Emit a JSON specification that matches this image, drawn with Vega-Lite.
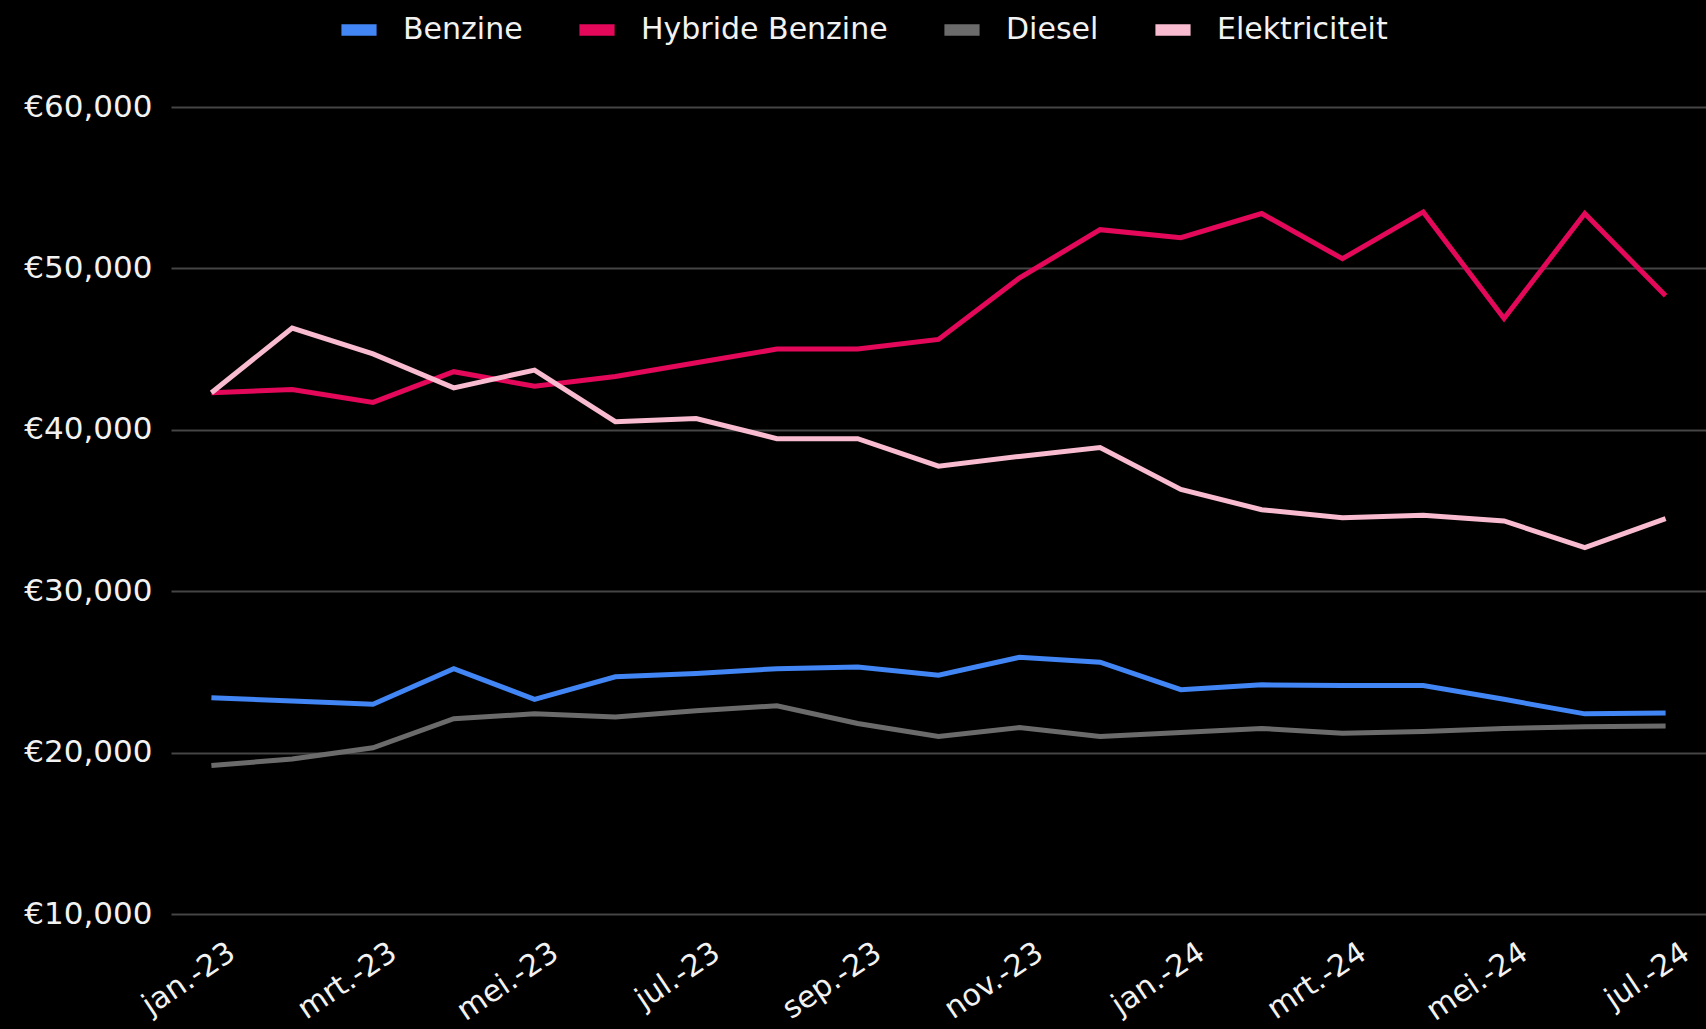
{
  "$schema": "https://vega.github.io/schema/vega-lite/v6.json",
  "width": 1535,
  "height": 807,
  "autosize": {"type": "none"},
  "padding": {"left": 171, "top": 107, "right": 0, "bottom": 115},
  "background": "#000000",
  "config": {
    "view": {"stroke": null},
    "font": "DejaVu Sans",
    "axis": {"labelFont": "DejaVu Sans", "labelColor": "#f2f2f2"},
    "legend": {"labelFont": "DejaVu Sans", "labelColor": "#f2f2f2"}
  },
  "data": {
    "values": [
      {"maand": "jan.-23", "brandstof": "Benzine", "prijs": 23400},
      {"maand": "feb.-23", "brandstof": "Benzine", "prijs": 23200},
      {"maand": "mrt.-23", "brandstof": "Benzine", "prijs": 23000},
      {"maand": "apr.-23", "brandstof": "Benzine", "prijs": 25200},
      {"maand": "mei.-23", "brandstof": "Benzine", "prijs": 23300},
      {"maand": "jun.-23", "brandstof": "Benzine", "prijs": 24700},
      {"maand": "jul.-23", "brandstof": "Benzine", "prijs": 24900},
      {"maand": "aug.-23", "brandstof": "Benzine", "prijs": 25200},
      {"maand": "sep.-23", "brandstof": "Benzine", "prijs": 25300},
      {"maand": "okt.-23", "brandstof": "Benzine", "prijs": 24800},
      {"maand": "nov.-23", "brandstof": "Benzine", "prijs": 25900},
      {"maand": "dec.-23", "brandstof": "Benzine", "prijs": 25600},
      {"maand": "jan.-24", "brandstof": "Benzine", "prijs": 23900},
      {"maand": "feb.-24", "brandstof": "Benzine", "prijs": 24200},
      {"maand": "mrt.-24", "brandstof": "Benzine", "prijs": 24150},
      {"maand": "apr.-24", "brandstof": "Benzine", "prijs": 24150},
      {"maand": "mei.-24", "brandstof": "Benzine", "prijs": 23300},
      {"maand": "jun.-24", "brandstof": "Benzine", "prijs": 22400},
      {"maand": "jul.-24", "brandstof": "Benzine", "prijs": 22450},

      {"maand": "jan.-23", "brandstof": "Hybride Benzine", "prijs": 42300},
      {"maand": "feb.-23", "brandstof": "Hybride Benzine", "prijs": 42500},
      {"maand": "mrt.-23", "brandstof": "Hybride Benzine", "prijs": 41700},
      {"maand": "apr.-23", "brandstof": "Hybride Benzine", "prijs": 43600},
      {"maand": "mei.-23", "brandstof": "Hybride Benzine", "prijs": 42700},
      {"maand": "jun.-23", "brandstof": "Hybride Benzine", "prijs": 43300},
      {"maand": "jul.-23", "brandstof": "Hybride Benzine", "prijs": 44150},
      {"maand": "aug.-23", "brandstof": "Hybride Benzine", "prijs": 45000},
      {"maand": "sep.-23", "brandstof": "Hybride Benzine", "prijs": 45000},
      {"maand": "okt.-23", "brandstof": "Hybride Benzine", "prijs": 45600},
      {"maand": "nov.-23", "brandstof": "Hybride Benzine", "prijs": 49400},
      {"maand": "dec.-23", "brandstof": "Hybride Benzine", "prijs": 52400},
      {"maand": "jan.-24", "brandstof": "Hybride Benzine", "prijs": 51900},
      {"maand": "feb.-24", "brandstof": "Hybride Benzine", "prijs": 53400},
      {"maand": "mrt.-24", "brandstof": "Hybride Benzine", "prijs": 50600},
      {"maand": "apr.-24", "brandstof": "Hybride Benzine", "prijs": 53500},
      {"maand": "mei.-24", "brandstof": "Hybride Benzine", "prijs": 46900},
      {"maand": "jun.-24", "brandstof": "Hybride Benzine", "prijs": 53400},
      {"maand": "jul.-24", "brandstof": "Hybride Benzine", "prijs": 48300},

      {"maand": "jan.-23", "brandstof": "Diesel", "prijs": 19200},
      {"maand": "feb.-23", "brandstof": "Diesel", "prijs": 19600},
      {"maand": "mrt.-23", "brandstof": "Diesel", "prijs": 20300},
      {"maand": "apr.-23", "brandstof": "Diesel", "prijs": 22100},
      {"maand": "mei.-23", "brandstof": "Diesel", "prijs": 22400},
      {"maand": "jun.-23", "brandstof": "Diesel", "prijs": 22200},
      {"maand": "jul.-23", "brandstof": "Diesel", "prijs": 22600},
      {"maand": "aug.-23", "brandstof": "Diesel", "prijs": 22900},
      {"maand": "sep.-23", "brandstof": "Diesel", "prijs": 21800},
      {"maand": "okt.-23", "brandstof": "Diesel", "prijs": 21000},
      {"maand": "nov.-23", "brandstof": "Diesel", "prijs": 21550},
      {"maand": "dec.-23", "brandstof": "Diesel", "prijs": 21000},
      {"maand": "jan.-24", "brandstof": "Diesel", "prijs": 21250},
      {"maand": "feb.-24", "brandstof": "Diesel", "prijs": 21500},
      {"maand": "mrt.-24", "brandstof": "Diesel", "prijs": 21200},
      {"maand": "apr.-24", "brandstof": "Diesel", "prijs": 21300},
      {"maand": "mei.-24", "brandstof": "Diesel", "prijs": 21500},
      {"maand": "jun.-24", "brandstof": "Diesel", "prijs": 21600},
      {"maand": "jul.-24", "brandstof": "Diesel", "prijs": 21650},

      {"maand": "jan.-23", "brandstof": "Elektriciteit", "prijs": 42300},
      {"maand": "feb.-23", "brandstof": "Elektriciteit", "prijs": 46300},
      {"maand": "mrt.-23", "brandstof": "Elektriciteit", "prijs": 44700},
      {"maand": "apr.-23", "brandstof": "Elektriciteit", "prijs": 42600},
      {"maand": "mei.-23", "brandstof": "Elektriciteit", "prijs": 43700},
      {"maand": "jun.-23", "brandstof": "Elektriciteit", "prijs": 40500},
      {"maand": "jul.-23", "brandstof": "Elektriciteit", "prijs": 40700},
      {"maand": "aug.-23", "brandstof": "Elektriciteit", "prijs": 39450},
      {"maand": "sep.-23", "brandstof": "Elektriciteit", "prijs": 39450},
      {"maand": "okt.-23", "brandstof": "Elektriciteit", "prijs": 37750},
      {"maand": "nov.-23", "brandstof": "Elektriciteit", "prijs": 38350},
      {"maand": "dec.-23", "brandstof": "Elektriciteit", "prijs": 38900},
      {"maand": "jan.-24", "brandstof": "Elektriciteit", "prijs": 36300},
      {"maand": "feb.-24", "brandstof": "Elektriciteit", "prijs": 35050},
      {"maand": "mrt.-24", "brandstof": "Elektriciteit", "prijs": 34550},
      {"maand": "apr.-24", "brandstof": "Elektriciteit", "prijs": 34700},
      {"maand": "mei.-24", "brandstof": "Elektriciteit", "prijs": 34350},
      {"maand": "jun.-24", "brandstof": "Elektriciteit", "prijs": 32700},
      {"maand": "jul.-24", "brandstof": "Elektriciteit", "prijs": 34500}
    ]
  },
  "mark": {"type": "line", "strokeWidth": 5, "strokeJoin": "miter", "strokeCap": "butt"},
  "encoding": {
    "x": {
      "field": "maand",
      "type": "ordinal",
      "sort": ["jan.-23","feb.-23","mrt.-23","apr.-23","mei.-23","jun.-23","jul.-23","aug.-23","sep.-23","okt.-23","nov.-23","dec.-23","jan.-24","feb.-24","mrt.-24","apr.-24","mei.-24","jun.-24","jul.-24"],
      "scale": {"type": "point", "padding": 0.5},
      "axis": {
        "title": null,
        "values": ["jan.-23","mrt.-23","mei.-23","jul.-23","sep.-23","nov.-23","jan.-24","mrt.-24","mei.-24","jul.-24"],
        "domain": false,
        "ticks": false,
        "grid": false,
        "labelAngle": -34,
        "labelAlign": "right",
        "labelBaseline": "top",
        "labelFontSize": 30,
        "labelPadding": 23,
        "labelOffset": 12,
        "labelLimit": 400
      }
    },
    "y": {
      "field": "prijs",
      "type": "quantitative",
      "scale": {"domain": [10000, 60000], "nice": false, "zero": false},
      "axis": {
        "title": null,
        "values": [10000, 20000, 30000, 40000, 50000, 60000],
        "labelExpr": "'€' + format(datum.value, ',')",
        "domain": false,
        "ticks": false,
        "grid": true,
        "gridColor": "#454545",
        "gridWidth": 2,
        "labelFontSize": 31,
        "labelPadding": 19,
        "labelLimit": 400
      }
    },
    "color": {
      "field": "brandstof",
      "type": "nominal",
      "sort": ["Benzine", "Hybride Benzine", "Diesel", "Elektriciteit"],
      "scale": {
        "domain": ["Benzine", "Hybride Benzine", "Diesel", "Elektriciteit"],
        "range": ["#4285F4", "#E4085A", "#6B6B6B", "#F8BBD0"]
      },
      "legend": {
        "title": null,
        "orient": "none",
        "direction": "horizontal",
        "legendX": 173,
        "legendY": -92,
        "symbolType": "M-1.5,-0.5H1.5V0.5H-1.5Z",
        "symbolSize": 550,
        "symbolStrokeWidth": 0,
        "symbolOpacity": 1,
        "labelFontSize": 30,
        "labelOffset": 29,
        "labelLimit": 500,
        "columnPadding": 56,
        "encode": {
          "symbols": {
            "update": {
              "fill": {"scale": "color", "field": "value"},
              "fillOpacity": {"value": 1},
              "strokeWidth": {"value": 0}
            }
          }
        }
      }
    },
    "order": {"field": "brandstof"}
  }
}
